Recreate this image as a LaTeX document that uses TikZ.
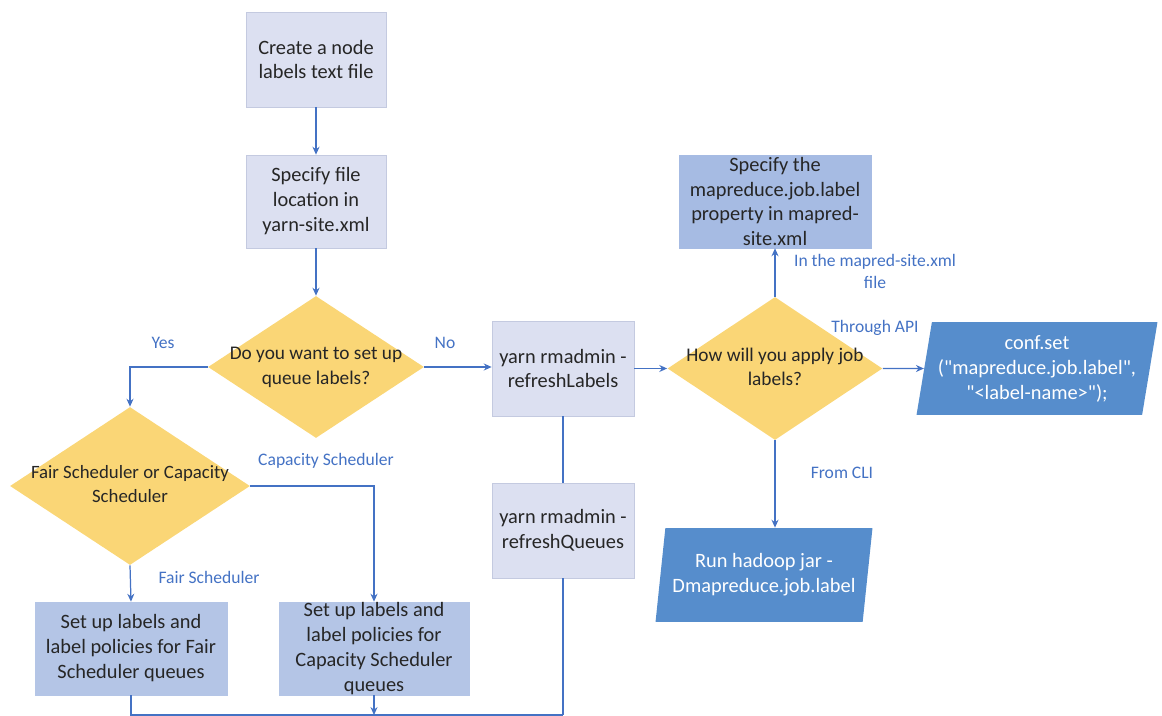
\documentclass[tikz,border=0pt]{standalone}
\usepackage{fontspec}
\setmainfont[Ligatures=TeXOff]{Carlito}
\usepackage{tikz}
\usetikzlibrary{shapes.geometric, arrows.meta}

\definecolor{flowblue}{RGB}{68,114,196}
\definecolor{boxlight}{RGB}{220,224,241}
\definecolor{boxedge}{RGB}{196,202,224}
\definecolor{boxmid}{RGB}{180,197,230}
\definecolor{boxdeep}{RGB}{166,187,227}
\definecolor{ioblue}{RGB}{86,141,204}
\definecolor{decyellow}{RGB}{250,214,118}
\definecolor{textdark}{RGB}{38,38,38}

% text of a decision diamond, kept out of the shape size
\newcommand{\dectext}[1]{\makebox[0pt]{\begin{tabular}{@{}c@{}}#1\end{tabular}}}

\begin{document}
\begin{tikzpicture}[x=0.02cm, y=-0.02cm, >={Stealth[length=4.5pt, width=4pt]}]

% Styles
\tikzset{
  flow/.style={line width=0.7pt, flowblue},
  lbl/.style={flowblue, align=center, inner sep=0pt, font=\fontsize{10}{12.5}\selectfont},
  procbox/.style={rectangle, draw=boxedge, fill=boxlight, text=textdark, align=center,
    inner sep=0pt, font=\fontsize{11.6}{14.2}\selectfont},
  setbox/.style={procbox, draw=boxmid, fill=boxmid},
  decision/.style={diamond, fill=decyellow, text=textdark, inner sep=0pt,
    font=\fontsize{11}{14.2}\selectfont},
  iobox/.style={trapezium, trapezium left angle=77, trapezium right angle=103,
    trapezium stretches body, fill=ioblue, text=white, align=center, inner sep=0pt,
    font=\fontsize{11.6}{14.2}\selectfont}
}

\useasboundingbox (0,0) rectangle (1162,716);

% Left column
\node[procbox, minimum width=2.8cm, minimum height=1.9cm] (create) at (316,59.5)
  {Create a node\\labels text file};
\node[procbox, minimum width=2.8cm, minimum height=1.86cm] (location) at (316,201.5)
  {Specify file\\location in\\yarn-site.xml};
\node[decision, minimum width=4.32cm, minimum height=2.84cm] (queueq) at (316,367)
  {\dectext{Do you want to set up\\queue labels?}};
\node[decision, minimum width=4.8cm, minimum height=3.16cm,
  font=\fontsize{10.7}{13.4}\selectfont] (schedq) at (130,486)
  {\dectext{Fair Scheduler or Capacity\\Scheduler}};
\node[setbox, minimum width=3.84cm, minimum height=1.86cm] (fairbox) at (131,648.5)
  {Set up labels and\\label policies for Fair\\Scheduler queues};
\node[setbox, minimum width=3.8cm, minimum height=1.86cm] (capbox) at (374,648.5)
  {Set up labels and\\label policies for\\Capacity Scheduler\\queues};

% Refresh commands
\node[procbox, minimum width=2.84cm, minimum height=1.9cm] (refreshlab) at (563,368.5)
  {yarn rmadmin -\\refreshLabels};
\node[procbox, minimum width=2.84cm, minimum height=1.9cm] (refreshq) at (563,530.5)
  {yarn rmadmin -\\refreshQueues};

% Job labels
\node[decision, minimum width=4.3cm, minimum height=2.86cm] (jobq) at (775,368.5)
  {\dectext{How will you apply job\\labels?}};
\node[setbox, draw=boxdeep, fill=boxdeep, minimum width=3.84cm, minimum height=1.86cm]
  (mapredbox) at (775,201.5)
  {Specify the\\mapreduce.job.label\\property in mapred-\\site.xml};
\node[iobox, minimum width=4.82cm, minimum height=1.86cm] (confset) at (1037,368.5)
  {conf.set\\("mapreduce.job.label",\\"<label-name>");};
\node[iobox, minimum width=4.34cm, minimum height=1.88cm] (hadoopjar) at (764,575)
  {Run hadoop jar -\\Dmapreduce.job.label};

% Connectors
\draw[flow, ->] (create) -- (location);
\draw[flow, ->] (location) -- (queueq);
\draw[flow, ->] (queueq.west) -| (schedq.north);
\draw[flow, ->] (queueq.east) -- (queueq.east -| refreshlab.west);
\draw[flow, ->] (schedq.south) -- (fairbox.north);
\draw[flow, ->] (schedq.east) -| (capbox.north);
\draw[flow] (refreshlab) -- (refreshq);
\draw[flow, ->] (refreshlab) -- (jobq);
\draw[flow, ->] (jobq) -- (mapredbox);
\draw[flow, ->] (jobq) -- (confset);
\draw[flow, ->] (jobq.south) -- (jobq.south |- hadoopjar.north);

% Bottom join
\coordinate (merge) at (563,715);
\draw[flow] (fairbox.south) |- (merge);
\draw[flow] (refreshq.south) -- (merge);
\draw[flow, ->] (capbox.south) -- (capbox.south |- merge);

% Branch labels
\node[lbl] (yes) at (163,343) {Yes};
\node[lbl] (no) at (445,343) {No};
\node[lbl] (capacity) at (326,461) {Capacity Scheduler};
\node[lbl] (fair) at (209,577) {Fair Scheduler};
\node[lbl] (infile) at (875,271) {In the mapred-site.xml\\file};
\node[lbl] (api) at (875,328) {Through API};
\node[lbl] (cli) at (842,473) {From CLI};

\end{tikzpicture}
\end{document}
